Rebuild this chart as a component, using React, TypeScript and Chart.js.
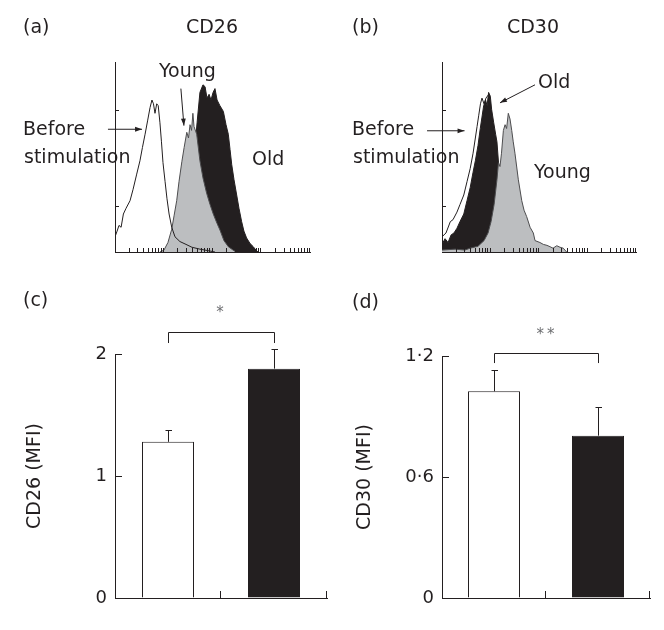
import React, { useEffect, useRef } from "react";
import { Chart, registerables } from "chart.js";

Chart.register(...registerables);

const FONT = '"DejaVu Sans", "Liberation Sans", Arial, sans-serif';
const INK = "#231f20";
const GREY = "#bcbec0";
const YOUNG_EDGE = "#4d4d4f";

// ---------- Histogram data: [channel (0-1024, 4 log decades), cell count] ----------
const cd26Before: [number, number][] = [
  [0, 8], [11, 11], [21, 14], [32, 13], [44, 20], [58, 23], [79, 27], [95, 33], [114, 41],
  [131, 48], [144, 55], [158, 62], [171, 69], [184, 76], [194, 80], [202, 78], [210, 73],
  [219, 78], [227, 77], [236, 68], [244, 58], [252, 47], [263, 37], [273, 28], [284, 20],
  [298, 13], [315, 8], [341, 5.5], [373, 4], [404, 2.5], [446, 1.5], [499, 0.5], [525, 0],
];
const cd26Young: [number, number][] = [
  [236, 0], [257, 1], [278, 5], [298, 12], [310, 19], [324, 27], [336, 37], [351, 47.5],
  [363, 55], [377, 63], [386, 60], [394, 67], [402, 64], [409, 73], [415, 66], [429, 62],
  [446, 48], [462, 39], [481, 31], [499, 25], [516, 20], [536, 15], [551, 11.6], [572, 6],
  [595, 2.8], [620, 1], [635, 0],
];
const cd26Old: [number, number][] = [
  [289, 0], [331, 5], [368, 15], [394, 30], [415, 50], [431, 68], [446, 84], [462, 88],
  [473, 87], [483, 81], [494, 83], [504, 80], [515, 84], [525, 86], [536, 80], [551, 77],
  [569, 74], [583, 67], [595, 62], [604, 54], [613, 46], [625, 38], [639, 30], [651, 23],
  [665, 16], [677, 11], [691, 7.4], [709, 4.5], [726, 2.8], [740, 1], [751, 0],
];
const cd30Before: [number, number][] = [
  [0, 8], [21, 10], [44, 16], [58, 17], [79, 21], [95, 25], [115, 30], [132, 37], [149, 44],
  [164, 52], [176, 60], [185, 66], [194, 72], [203, 78], [211, 81], [222, 78], [232, 81],
  [247, 83], [253, 79], [264, 70], [275, 60], [285, 46], [296, 30], [306, 14], [322, 4], [343, 0],
];
const cd30Young: [number, number][] = [
  [0, 1], [69, 1.5], [121, 1], [148, 2], [190, 3], [222, 6], [243, 10], [259, 16], [275, 25],
  [290, 38], [298, 47], [306, 45], [314, 52], [324, 64], [333, 67], [341, 65], [350, 73],
  [359, 70], [368, 64], [376, 58], [385, 52], [403, 38], [421, 27], [433, 22], [447, 18.6],
  [465, 13], [482, 10], [491, 6], [517, 5], [535, 4], [554, 3.5], [570, 2.8], [586, 2],
  [606, 3.3], [623, 2.5], [640, 2], [658, 0],
];
const cd30Old: [number, number][] = [
  [0, 4], [16, 7], [32, 5], [48, 9], [63, 10], [79, 12.5], [95, 16], [115, 20], [132, 27],
  [149, 34], [164, 42], [176, 48], [190, 56], [202, 65], [211, 71], [220, 77], [230, 80],
  [238, 77], [246, 84], [255, 82], [262, 75], [273, 68], [283, 62], [290, 58], [299, 46],
  [308, 34], [317, 24], [327, 14], [343, 8], [370, 3], [412, 0],
];

const histChannelMax = 1024;
const channelsPerDecade = 256;
const histDecades = 4;
const histCountMax = 100;
const histYTickCounts = [24, 75];

// annotation arrows in data units: [fromChannel, fromCount, toChannel, toCount]
const cd26Arrows = [
  [346, 86, 362, 66.5],
  [-37, 64.6, 142, 64.6],
];
const cd30Arrows = [
  [491, 88, 306, 78.5],
  [-79, 63.8, 119, 63.8],
];

// ---------- Bar chart data ----------
const groups = ["Young", "Old"];
const cd26Mean = [1.28, 1.88];
const cd26SE = [0.1, 0.165];
const cd30Mean = [1.025, 0.805];
const cd30SE = [0.105, 0.14];
const cd26Ticks = [0, 1, 2];
const cd30Ticks = [0, 0.6, 1.2];
const cd26Bracket = [2.18, 2.09];
const cd30Bracket = [1.217, 1.165];

// ---------- plugins ----------
function arrow(ctx: CanvasRenderingContext2D, x1: number, y1: number, x2: number, y2: number) {
  ctx.beginPath();
  ctx.moveTo(x1, y1);
  ctx.lineTo(x2, y2);
  ctx.stroke();
  const a = Math.atan2(y2 - y1, x2 - x1);
  const L = 7;
  const W = 2.4;
  ctx.beginPath();
  ctx.moveTo(x2, y2);
  ctx.lineTo(x2 - L * Math.cos(a) + W * Math.sin(a), y2 - L * Math.sin(a) - W * Math.cos(a));
  ctx.lineTo(x2 - L * Math.cos(a) - W * Math.sin(a), y2 - L * Math.sin(a) + W * Math.cos(a));
  ctx.closePath();
  ctx.fill();
}

const histDecor = {
  id: "histDecor",
  afterDraw(chart: any, _args: any, opts: any) {
    const { ctx } = chart;
    const xs = chart.scales.x;
    const ys = chart.scales.y;
    const bottom = Math.round(ys.bottom);
    const left = Math.round(xs.left);
    ctx.save();
    ctx.strokeStyle = INK;
    ctx.fillStyle = INK;
    ctx.lineWidth = 1;
    ctx.beginPath();
    for (let d = 0; d < histDecades; d++) {
      for (let m = 2; m <= 10; m++) {
        const ch = channelsPerDecade * (d + Math.log10(m));
        const px = Math.round(xs.getPixelForValue(ch)) - 0.5;
        ctx.moveTo(px, bottom);
        ctx.lineTo(px, bottom - 4);
      }
    }
    for (const c of histYTickCounts) {
      const py = Math.round(ys.getPixelForValue(c)) + 0.5;
      ctx.moveTo(left, py);
      ctx.lineTo(left + 4, py);
    }
    ctx.stroke();
    for (const a of opts.arrows) {
      arrow(ctx, xs.getPixelForValue(a[0]), ys.getPixelForValue(a[1]), xs.getPixelForValue(a[2]), ys.getPixelForValue(a[3]));
    }
    ctx.restore();
  },
};

const barDecor = {
  id: "barDecor",
  afterDraw(chart: any, _args: any, opts: any) {
    const { ctx } = chart;
    const xs = chart.scales.x;
    const ys = chart.scales.y;
    const meta = chart.getDatasetMeta(0);
    ctx.save();
    ctx.strokeStyle = INK;
    ctx.lineWidth = 1;
    ctx.beginPath();
    opts.mean.forEach((m: number, i: number) => {
      const cx = Math.round(meta.data[i].x) + 0.5;
      const yTop = Math.round(ys.getPixelForValue(m + opts.se[i])) + 0.5;
      const yBar = ys.getPixelForValue(m);
      ctx.moveTo(cx, yBar);
      ctx.lineTo(cx, yTop);
      ctx.moveTo(cx - 3, yTop);
      ctx.lineTo(cx + 3.5, yTop);
    });
    const xa = Math.round(meta.data[0].x) + 0.5;
    const xb = Math.round(meta.data[1].x) + 0.5;
    const yb = Math.round(ys.getPixelForValue(opts.bracket[0])) + 0.5;
    const yl = ys.getPixelForValue(opts.bracket[1]);
    ctx.moveTo(xa, yl);
    ctx.lineTo(xa, yb);
    ctx.lineTo(xb, yb);
    ctx.lineTo(xb, yl);
    const bottom = Math.round(ys.bottom);
    const left = Math.round(xs.left);
    for (const t of opts.ticks) {
      if (t <= 0) continue;
      const py = Math.round(ys.getPixelForValue(t)) + 0.5;
      ctx.moveTo(left, py);
      ctx.lineTo(left + 7, py);
    }
    const p0 = xs.getPixelForValue(0);
    const p1 = xs.getPixelForValue(1);
    const step = p1 - p0;
    for (const bx of [p0 + step / 2, p1 + step / 2]) {
      const px = Math.round(bx) - 0.5;
      ctx.moveTo(px, bottom);
      ctx.lineTo(px, bottom - 7);
    }
    ctx.stroke();
    ctx.restore();
  },
};

function fmt(v: number) {
  if (v === 0) return "0";
  return String(Math.round(v * 10) / 10).replace(".", "\u00B7");
}

function histConfig(before: [number, number][], young: [number, number][], old: [number, number][], arrows: number[][], beforeOnTop: boolean, padding: any) {
  const toXY = (arr: [number, number][]) => arr.map(([x, y]) => ({ x, y }));
  return {
    type: "line",
    data: {
      datasets: [
        { label: "Before stimulation", data: toXY(before), borderColor: INK, borderWidth: 1, fill: false, pointRadius: 0, order: beforeOnTop ? 0 : 1 },
        { label: "Young", data: toXY(young), borderColor: YOUNG_EDGE, borderWidth: 1, backgroundColor: GREY, fill: "origin", pointRadius: 0, order: beforeOnTop ? 1 : 0 },
        { label: "Old", data: toXY(old), borderColor: INK, borderWidth: 1, backgroundColor: INK, fill: "origin", pointRadius: 0, order: 2 },
      ],
    },
    options: {
      animation: false,
      responsive: false,
      events: [],
      layout: { padding },
      elements: { line: { tension: 0 } },
      plugins: { legend: { display: false }, tooltip: { enabled: false }, histDecor: { arrows } },
      scales: {
        x: {
          type: "linear", min: 0, max: histChannelMax,
          grid: { display: true, drawOnChartArea: false, drawTicks: false },
          border: { display: true, color: INK, width: 1 },
          ticks: { display: false },
          afterFit: (s: any) => { s.height = 0; },
        },
        y: {
          type: "linear", min: 0, max: histCountMax,
          grid: { display: true, drawOnChartArea: false, drawTicks: false },
          border: { display: true, color: INK, width: 1 },
          ticks: { display: false },
          afterFit: (s: any) => { s.width = 0; },
        },
      },
    },
    plugins: [histDecor],
  };
}

function barConfig(mean: number[], se: number[], ticks: number[], bracket: number[], title: string, padding: any, yWidth: number, titlePad: number, barPct: number) {
  return {
    type: "bar",
    data: {
      labels: groups,
      datasets: [{
        label: title, data: mean,
        backgroundColor: ["#ffffff", INK], borderColor: [INK, INK], borderWidth: 1,
        barPercentage: barPct, categoryPercentage: 1,
      }],
    },
    options: {
      animation: false,
      responsive: false,
      events: [],
      layout: { padding },
      plugins: { legend: { display: false }, tooltip: { enabled: false }, barDecor: { mean, se, ticks, bracket } },
      scales: {
        x: {
          type: "category", offset: true,
          grid: { display: true, drawOnChartArea: false, drawTicks: false, offset: true },
          border: { display: true, color: INK, width: 1 },
          ticks: { display: false },
          afterFit: (s: any) => { s.height = 0; },
        },
        y: {
          type: "linear", min: 0, max: ticks[ticks.length - 1],
          afterBuildTicks: (s: any) => { s.ticks = ticks.map((v) => ({ value: v })); },
          ticks: { color: INK, padding: 8, font: { family: FONT, size: 18 }, callback: (v: any) => fmt(Number(v)) },
          grid: { display: true, drawOnChartArea: false, drawTicks: false },
          border: { display: true, color: INK, width: 1 },
          title: { display: true, text: title, color: INK, font: { family: FONT, size: 19 }, padding: { top: titlePad, bottom: 0 } },
          afterFit: (s: any) => { s.width = yWidth; },
        },
      },
    },
    plugins: [barDecor],
  };
}

function ChartCanvas({ left, top, width, height, make }: any) {
  const ref = useRef<HTMLCanvasElement | null>(null);
  useEffect(() => {
    const chart = new Chart(ref.current as HTMLCanvasElement, make());
    return () => chart.destroy();
  }, []);
  return (
    <canvas ref={ref} width={width} height={height}
      style={{ position: "absolute", left, top, width, height }} />
  );
}

function Txt({ text, x, base, size = 19, center = false, color = INK, ls = 0 }: any) {
  const style: any = {
    position: "absolute",
    left: x,
    top: base - size * 0.846,
    fontSize: size,
    lineHeight: `${size}px`,
    fontFamily: FONT,
    color,
    whiteSpace: "nowrap",
    letterSpacing: ls,
    transform: center ? "translateX(-50%)" : undefined,
  };
  return <div style={style}>{text}</div>;
}

export default function App() {
  return (
    <div style={{ position: "absolute", left: 0, top: 0, width: 664, height: 630, background: "#fff", overflow: "hidden" }}>
      <ChartCanvas left={0} top={0} width={332} height={275}
        make={() => histConfig(cd26Before, cd26Young, cd26Old, cd26Arrows, true, { left: 115, right: 22, top: 62, bottom: 23 })} />
      <ChartCanvas left={332} top={0} width={332} height={275}
        make={() => histConfig(cd30Before, cd30Young, cd30Old, cd30Arrows, false, { left: 110, right: 28, top: 62, bottom: 23 })} />
      <ChartCanvas left={0} top={275} width={332} height={355}
        make={() => barConfig(cd26Mean, cd26SE, cd26Ticks, cd26Bracket, "CD26 (MFI)", { left: 0, right: 5, top: 79, bottom: 32 }, 115, 23.6, 52 / 106)} />
      <ChartCanvas left={332} top={275} width={332} height={355}
        make={() => barConfig(cd30Mean, cd30SE, cd30Ticks, cd30Bracket, "CD30 (MFI)", { left: 0, right: 14, top: 81, bottom: 32 }, 110, 21.6, 0.5)} />

      <Txt text="(a)" x={23} base={33.5} />
      <Txt text="CD26" x={212} base={33.5} center />
      <Txt text="(b)" x={352} base={33.5} />
      <Txt text="CD30" x={533} base={33.5} center />
      <Txt text="(c)" x={23} base={306} />
      <Txt text="(d)" x={352} base={308} />

      <Txt text="Young" x={159} base={77} />
      <Txt text="Before" x={23} base={135} />
      <Txt text="stimulation" x={24} base={163} />
      <Txt text="Old" x={252} base={165} />

      <Txt text="Old" x={538} base={88} />
      <Txt text="Before" x={352} base={135} />
      <Txt text="stimulation" x={353} base={163} />
      <Txt text="Young" x={534} base={178} />

      <Txt text="*" x={220} base={318} size={15} center color="#6d6e71" />
      <Txt text="**" x={547} base={340} size={15} center color="#6d6e71" ls={3} />
    </div>
  );
}
